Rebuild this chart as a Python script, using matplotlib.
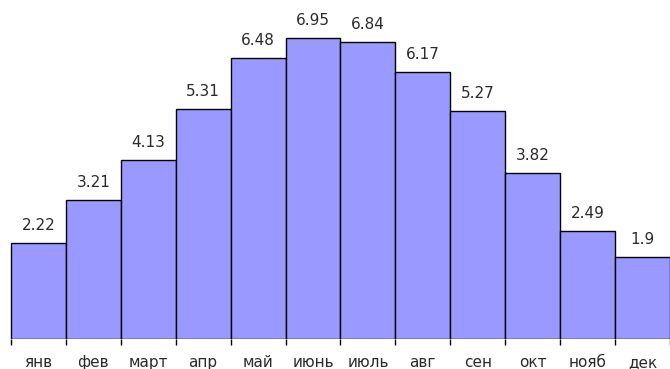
import matplotlib
matplotlib.use("Agg")
import matplotlib.pyplot as plt
import numpy as np

months = ["янв", "фев", "март", "апр", "май", "июнь", "июль", "авг", "сен", "окт", "нояб", "дек"]
values = [2.22, 3.21, 4.13, 5.31, 6.48, 6.95, 6.84, 6.17, 5.27, 3.82, 2.49, 1.9]
labels = ["2.22", "3.21", "4.13", "5.31", "6.48", "6.95", "6.84", "6.17", "5.27", "3.82", "2.49", "1.9"]

plt.rcParams['font.family'] = ['DejaVu Sans']

fig = plt.figure(figsize=(6.7, 3.69), dpi=100)
ax = fig.add_axes([0, 30 / 369, 1, 339 / 369])

x = np.arange(len(months))
ax.bar(x, values, width=1.0, color='#9999FF', edgecolor='black', linewidth=1.0)

for xi, v, lab in zip(x, values, labels):
    ax.annotate(lab, (xi, v), xytext=(0, 10), textcoords='offset pixels',
                ha='center', va='bottom', fontsize=11, color='#2a2a2a')

# bars are ~55.5 px wide, first bar starts 11 px from the left edge
bw = 55.5
left = -0.5 - 11 / bw
ax.set_xlim(left, left + 670 / bw)
ax.set_ylim(0, 7.82)

for s in ['top', 'right', 'left', 'bottom']:
    ax.spines[s].set_visible(False)
ax.set_yticks([])

ax.set_xticks(x)
ax.set_xticklabels(months, fontsize=11, color='#2a2a2a')
ax.set_xticks(np.arange(-0.5, 12, 1), minor=True)
ax.tick_params(axis='x', which='major', length=0, pad=11.5)
ax.tick_params(axis='x', which='minor', length=4, width=1, color='black')

fig.savefig("out.png", dpi=100)
